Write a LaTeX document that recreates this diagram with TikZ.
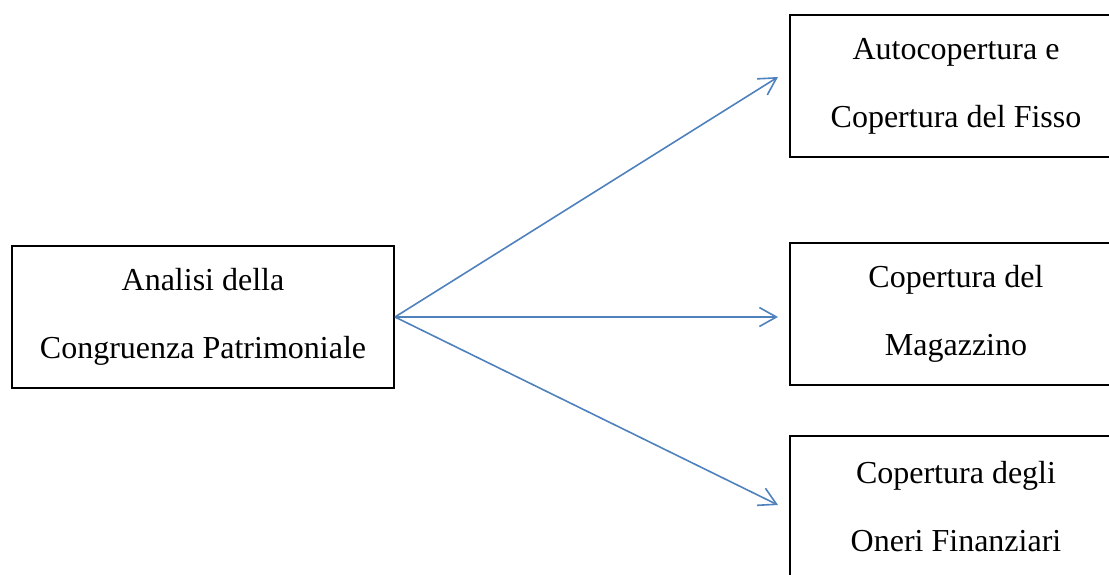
\documentclass[tikz,border=0pt]{standalone}
\usepackage{fontspec}
\setmainfont{Liberation Serif}
\usetikzlibrary{positioning, arrows.meta}
\definecolor{ArrowBlue}{RGB}{79, 129, 189}

\tikzset{
  box/.style={draw=black, line width=1pt, minimum width=166pt, minimum height=71pt,
    inner sep=0pt, align=center, font=\fontsize{16}{34}\selectfont},
  flow/.style={draw=ArrowBlue, line width=0.8pt, -{Straight Barb[length=8.5pt, width=9.5pt]}}
}

\begin{document}
\begin{tikzpicture}[x=0.5pt, y=-0.5pt]
    \useasboundingbox (0,0) rectangle (1109,574);
    \node[box, minimum width=191pt] (congruenza) at (203,317) {Analisi della\\Congruenza Patrimoniale};
    \node[box] (fisso) at (956,86) {Autocopertura e\\Copertura del Fisso};
    \node[box] (magazzino) at (956,314) {Copertura del\\Magazzino};
    \node[box] (oneri) at (956,507) {Copertura degli\\Oneri Finanziari};
    % arrow tips stop short of the boxes
    \coordinate (tipFisso) at (778,77);
    \coordinate (tipMagazzino) at (778,317);
    \coordinate (tipOneri) at (778,505);
    \draw[flow] (congruenza.east) -- (tipFisso);
    \draw[flow] (congruenza.east) -- (tipMagazzino);
    \draw[flow] (congruenza.east) -- (tipOneri);
  \end{tikzpicture}
\end{document}
